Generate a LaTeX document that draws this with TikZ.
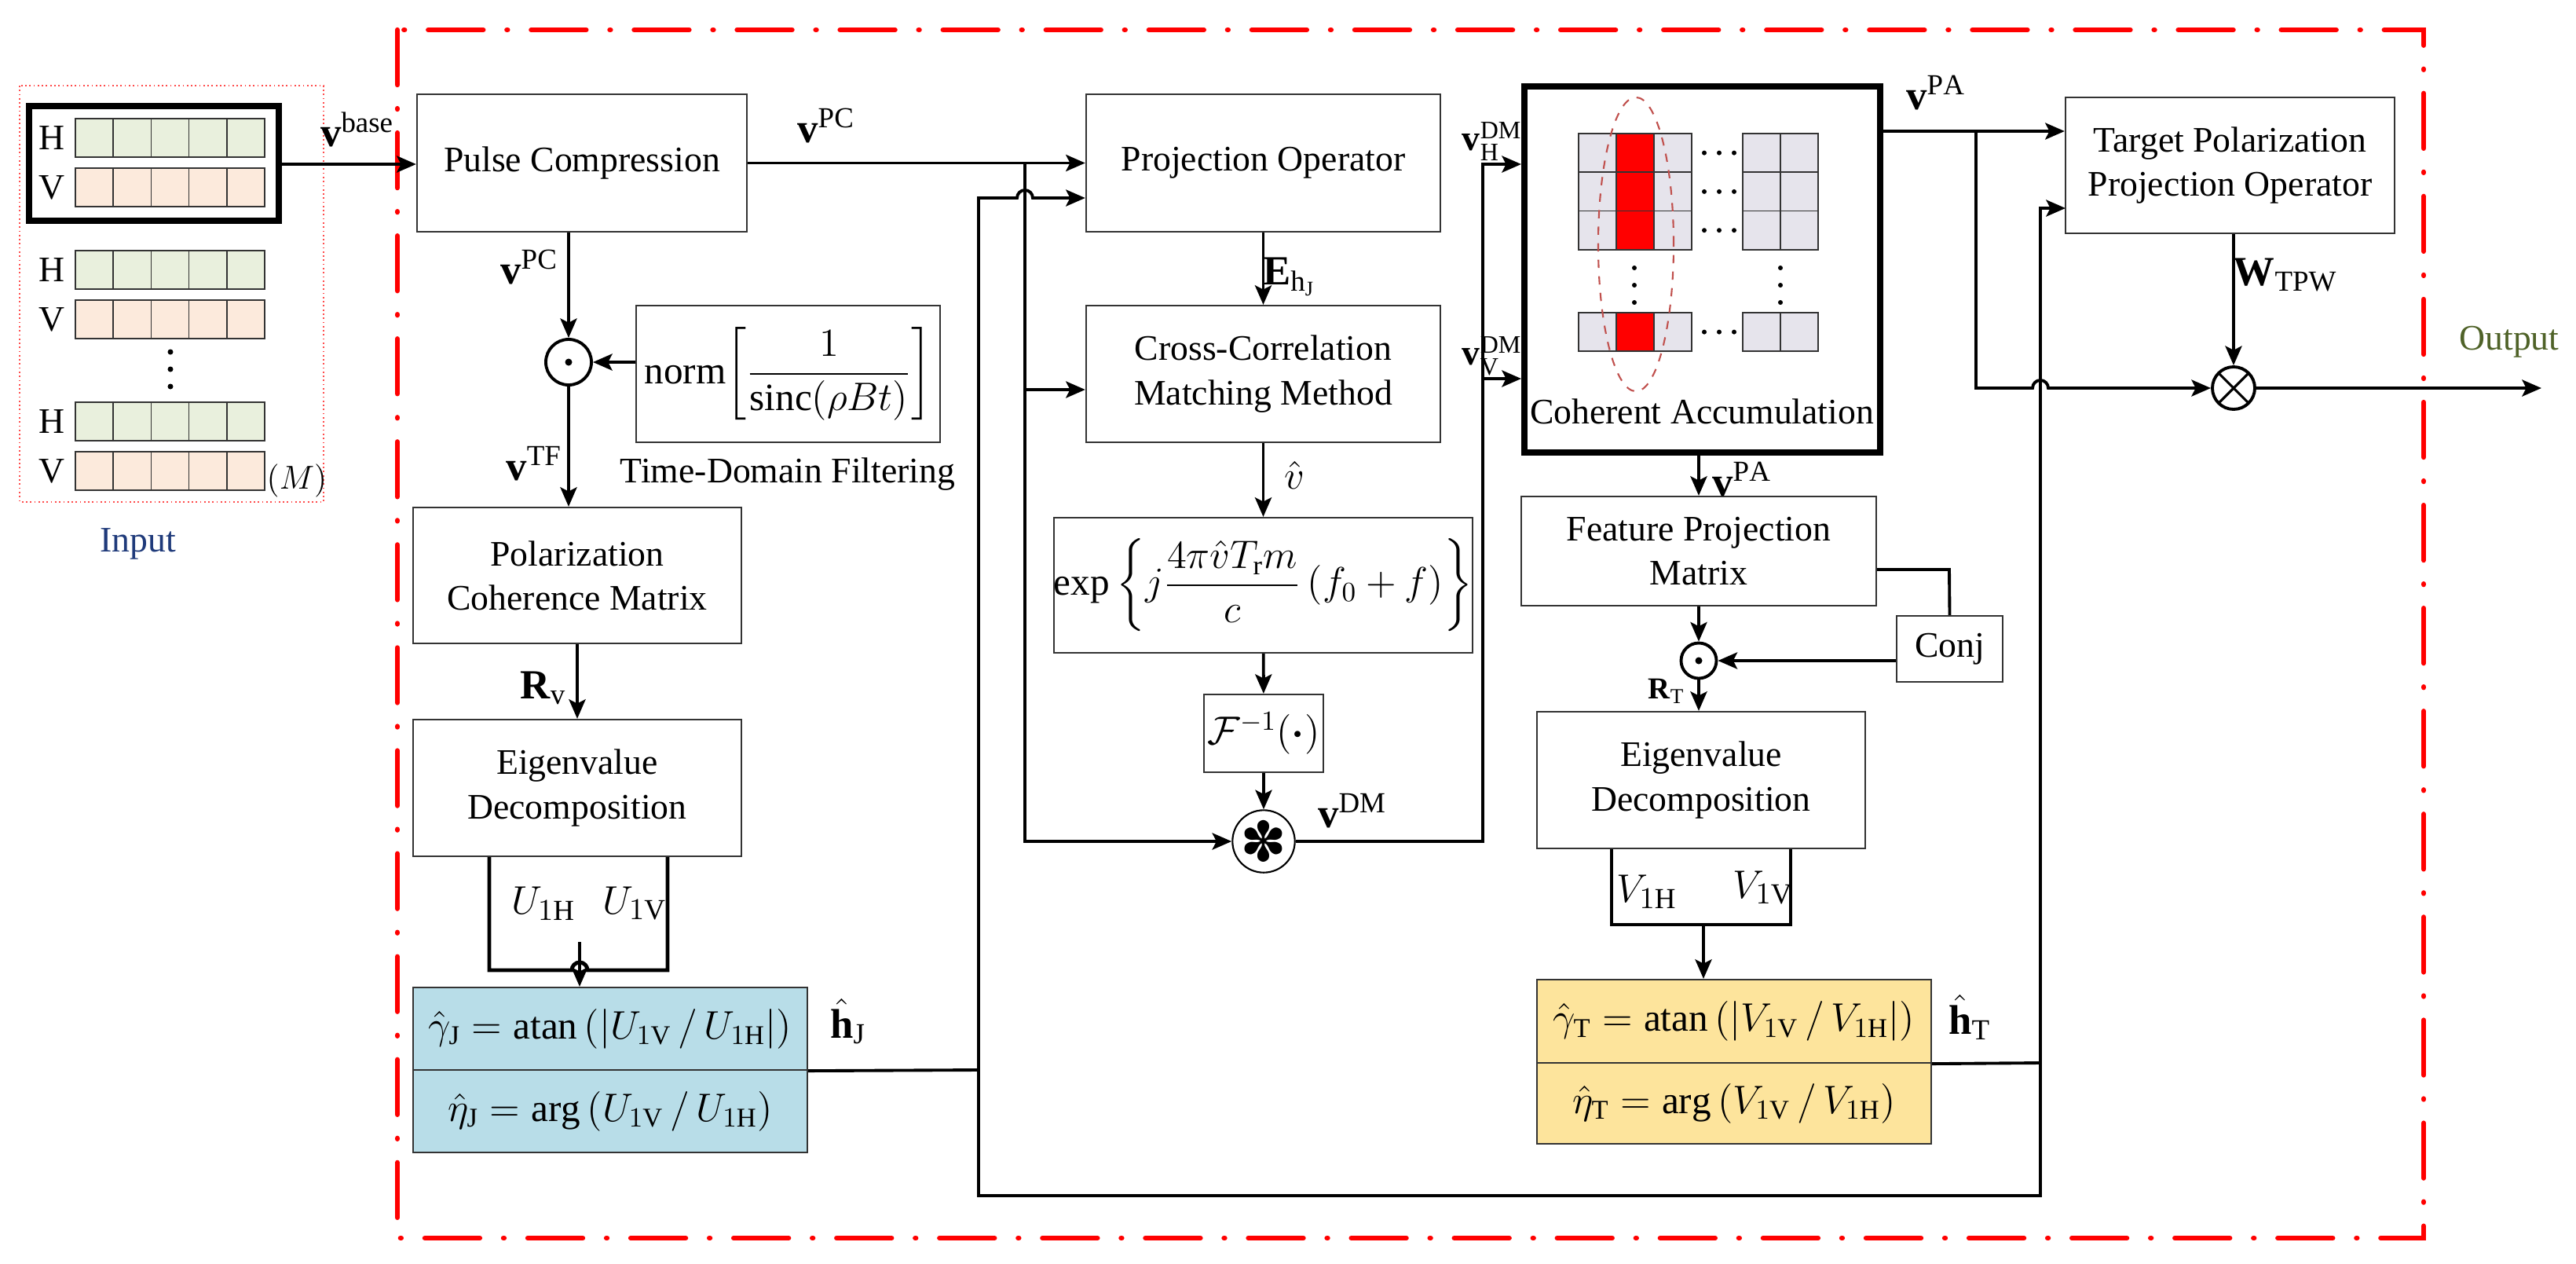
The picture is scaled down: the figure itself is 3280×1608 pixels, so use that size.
\documentclass[tikz,border=0pt]{standalone}
\usepackage{fontspec}
\setmainfont{Liberation Serif}
\newfontfamily\djv{DejaVu Sans}
\usepackage{amsmath,amssymb}
\usetikzlibrary{arrows.meta,calc}
\definecolor{bluec}{HTML}{B8DDE8}
\definecolor{yelc}{HTML}{FDE49C}
\definecolor{greenc}{HTML}{E9F0DD}
\definecolor{orgc}{HTML}{FCEADC}
\definecolor{cag}{HTML}{E6E4EC}
\definecolor{outc}{HTML}{4F6228}
\definecolor{inc}{HTML}{1F3A7A}
\definecolor{ellc}{HTML}{C0504D}
\begin{document}
\begin{tikzpicture}[x=0.01cm,y=-0.01cm, font=\fontsize{13}{16}\selectfont,
 box/.style={draw=black!80,line width=0.6pt,align=center,inner sep=0pt},
 eq/.style={font=\fontsize{14}{16}\selectfont},
 ar/.style={line width=1.1pt,-{Stealth[length=7pt,width=6pt,inset=1.5pt]}},
 ln/.style={line width=1.1pt},
 lbl/.style={font=\fontsize{15}{17}\selectfont, inner sep=0pt},
 dotop/.style={circle,draw,line width=1.1pt,inner sep=0pt,
   path picture={\fill (path picture bounding box.center) circle (0.045cm);}},
 cell/.style={draw=black!80,line width=0.5pt},
]
\useasboundingbox (0,0) rectangle (3280,1608);
% frame
\draw[red,line width=1.8pt,line cap=round,dash pattern=on 0.7cm off 0.3cm on 0.01cm off 0.3cm] (506,38) rectangle (3086,1576);

% ---------- input panel
\draw[red!70,densely dotted,line width=0.5pt] (25,109) rectangle (412,639);
\draw[line width=2.2pt] (37,135) rectangle (355,281);
\foreach \y/\c/\t in {151/greenc/H,214/orgc/V,319/greenc/H,382/orgc/V,512/greenc/H,575/orgc/V}{
  \foreach \i in {0,...,4}{\draw[cell,fill=\c] ({96+\i*48.2},\y) rectangle ++(48.2,49);}
  \node[inner sep=0pt] at (66,\y+24.5) {\t};
}
\foreach \y in {448,470,492}{\fill (217,\y) circle (0.035cm);}
\node[inner sep=0pt] (mlab) at (378,612) {$(M)$};
\node[text=inc,inner sep=0pt] (inlab) at (176,692) {Input};

% ---------- left column
\node[box,minimum width=4.2cm,minimum height=1.75cm] (pc) at (741,207.5) {Pulse Compression};
\draw[ar] (355,209) -- (pc.west |- 0,209);
\node[lbl] (vbase) at (455,165) {$\mathbf{v}^{\mathrm{base}}$};
\node[lbl] (vpc1) at (1052,160) {$\mathbf{v}^{\mathrm{PC}}$};
\node[dotop,minimum size=0.58cm] (od1) at (724,461) {};
\node[box,eq,minimum width=3.87cm,minimum height=1.74cm] (tdf) at (1003.5,476)
  {norm$\left[\dfrac{1}{\mathrm{sinc}(\rho Bt)}\right]$};
\node[inner sep=0pt] (tdfc) at (1003,604) {Time-Domain Filtering};
\draw[ar] (pc.south -| od1) -- (od1);
\draw[ar] (tdf.west |- od1) -- (od1);
\node[lbl] (vpc2) at (674,340) {$\mathbf{v}^{\mathrm{PC}}$};
\node[box,minimum width=4.18cm,minimum height=1.73cm] (pcm) at (735,732.5) {Polarization\\Coherence Matrix};
\draw[ar] (od1) -- (od1 |- pcm.north);
\node[lbl] (vtf) at (680,590) {$\mathbf{v}^{\mathrm{TF}}$};
\node[box,minimum width=4.18cm,minimum height=1.74cm] (evd1) at (735,1003) {Eigenvalue\\Decomposition};
\draw[ar] (pcm) -- (evd1);
\node[lbl] (rv) at (692,876) {$\mathbf{R}_{\mathrm{v}}$};
\coordinate (ua) at (623,1235);
\coordinate (ub) at (850,1235);
\draw[line width=1.4pt] (evd1.south -| ua) -- (ua) -- (728,1235) arc[start angle=180,end angle=0,radius=0.1cm] -- (ub) -- (evd1.south -| ub);
\node[lbl] (u1h) at (692,1150) {$U_{1\mathrm{H}}$};
\node[lbl] (u1v) at (808,1150) {$U_{1\mathrm{V}}$};
\node[box,eq,fill=bluec,minimum width=5.02cm,minimum height=1.05cm] (blT) at (777,1309.5)
  {$\hat{\gamma}_{\mathrm{J}}=\mathrm{atan}\left(\left|U_{1\mathrm{V}}\,/\,U_{1\mathrm{H}}\right|\right)$};
\node[box,eq,fill=bluec,minimum width=5.02cm,minimum height=1.05cm] (blB) at (777,1414.5)
  {$\hat{\eta}_{\mathrm{J}}=\arg\left(U_{1\mathrm{V}}\,/\,U_{1\mathrm{H}}\right)$};
\coordinate (uj) at (738,1199);
\draw[ar] (uj) -- (uj |- blT.north);
\node[lbl] (hj) at (1080,1300) {$\hat{\mathbf{h}}_{\mathrm{J}}$};

% ---------- middle column
\node[box,minimum width=4.51cm,minimum height=1.75cm] (po) at (1608.5,207.5) {Projection Operator};
\node[box,minimum width=4.51cm,minimum height=1.74cm] (cc) at (1608.5,476) {Cross-Correlation\\Matching Method};
\node[box,eq,minimum width=4.51cm,minimum height=1.72cm] (ex) at (1608.5,745)
  {$\exp\left\{j\dfrac{4\pi\hat{v}T_{\mathrm{r}}m}{c}\left(f_0+f\right)\right\}$};
\node[box,eq,minimum width=1.52cm,minimum height=0.99cm] (fi) at (1609,933.5) {$\mathcal{F}^{-1}(\boldsymbol{\cdot})$};
\node[circle,draw,line width=0.6pt,minimum size=0.74cm,inner sep=0pt] (star) at (1609,1071) {\djv\fontsize{20}{20}\selectfont\symbol{"273D}};
\draw[ar] (pc) -- (po);
\coordinate (br) at (1305,208);
\draw[ar] (br) -- (1305,1071) -- (star);
\draw[ar] (1305,496) -- (cc.west |- 0,496);
\draw[ar] (po) -- (cc);
\node[lbl] (ehj) at (1642,352) {$\mathbf{E}_{\mathrm{h}_{\mathrm{J}}}$};
\draw[ar] (cc) -- (ex);
\node[lbl] (vh) at (1648,605) {$\hat{v}$};
\draw[ar] (ex) -- (fi);
\draw[ar] (fi) -- (star);
\node[lbl] (vdm) at (1722,1032) {$\mathbf{v}^{\mathrm{DM}}$};
% feedback lines
\coordinate (hjp) at (1246,1362);
\draw[ln] (blT.south east) -- (hjp);
\draw[ar] (hjp) -- (1246,252) -- (1295,252) arc[start angle=180,end angle=0,radius=0.1cm] -- (po.west |- 0,252);
\draw[ar] (hjp) -- (1246,1522) -- (2598,1522) -- (2598,265) -- (2630,265);

% ---------- coherent accumulation
\node[draw,line width=2.2pt,minimum width=4.53cm,minimum height=4.66cm,inner sep=0pt] (ca) at (2167.5,343) {};
\foreach \y in {170,219.3,268.6,398}{
  \draw[cell,fill=cag] (2010,\y) rectangle ++(48,49.3);
  \draw[cell,fill=red] (2058,\y) rectangle ++(48,49.3);
  \draw[cell,fill=cag] (2106,\y) rectangle ++(48,49.3);
  \draw[cell,fill=cag] (2219,\y) rectangle ++(48,49.3);
  \draw[cell,fill=cag] (2267,\y) rectangle ++(48,49.3);
  \foreach \x in {2170,2189,2208}{\fill (\x,\y+24.6) circle (0.03cm);}
}
\foreach \y in {341,363,385}{\fill (2081,\y) circle (0.03cm); \fill (2267,\y) circle (0.03cm);}
\draw[ellc,dashed,line width=0.6pt] (2083,311) ellipse [x radius=0.48cm,y radius=1.87cm];
\node[inner sep=0pt] (catxt) at (2167,524) {Coherent Accumulation};
\draw[ar] (star) -- (1888,1071) -- (1888,209) -- (ca.west |- 0,209);
\draw[ar] (1888,482) -- (ca.west |- 0,482);
\node[lbl,font=\fontsize{13}{15}\selectfont] (vhdm) at (1900,180) {$\mathbf{v}_{\mathrm{H}}^{\mathrm{DM}}$};
\node[lbl,font=\fontsize{13}{15}\selectfont] (vvdm) at (1900,453) {$\mathbf{v}_{\mathrm{V}}^{\mathrm{DM}}$};

% ---------- right part
\node[box,minimum width=4.19cm,minimum height=1.73cm] (tppo) at (2839.5,210.5) {Target Polarization\\Projection Operator};
\node[circle,draw,line width=1.1pt,minimum size=0.54cm,inner sep=0pt,
  path picture={\draw[line width=0.9pt] (path picture bounding box.south west) -- (path picture bounding box.north east) (path picture bounding box.north west) -- (path picture bounding box.south east);}] (ot) at (2844,494) {};
\draw[ar] (ca.east |- 0,167) -- (tppo.west |- 0,167);
\node[lbl] (vpa1) at (2465,118) {$\mathbf{v}^{\mathrm{PA}}$};
\draw[ar] (2516,167) -- (2516,494) -- (2588,494) arc[start angle=180,end angle=0,radius=0.1cm] -- (ot);
\draw[ar] (tppo.south -| ot) -- (ot);
\node[lbl] (wtpw) at (2910,350) {$\mathbf{W}_{\mathrm{TPW}}$};
\coordinate (oend) at (3236,494);
\draw[ar] (ot) -- (oend);
\node[text=outc,inner sep=0pt] (outl) at (3195,435) {Output};

\node[box,minimum width=4.52cm,minimum height=1.39cm] (fpm) at (2163,701.5) {Feature Projection\\Matrix};
\draw[ar] (ca.south -| fpm) -- (fpm);
\node[lbl] (vpa2) at (2218,610) {$\mathbf{v}^{\mathrm{PA}}$};
\node[box,minimum width=1.35cm,minimum height=0.84cm] (conj) at (2482.5,826) {Conj};
\node[dotop,minimum size=0.45cm] (od2) at (2163,841) {};
\draw[ln] (fpm.east |- 0,725) -- (2482,725) -- (conj.north);
\draw[ar] (conj.west |- od2) -- (od2);
\draw[ar] (fpm.south -| od2) -- (od2);
\node[box,minimum width=4.18cm,minimum height=1.74cm] (evd2) at (2166,993) {Eigenvalue\\Decomposition};
\draw[ar] (od2) -- (od2 |- evd2.north);
\node[lbl,font=\fontsize{11}{12}\selectfont] (rt) at (2122,880) {$\mathbf{R}_{\mathrm{T}}$};
\draw[line width=1.4pt] (evd2.south -| 2052,0) -- (2052,1177) -- (2280,1177) -- (evd2.south -| 2280,0);
\node[lbl] (v1h) at (2097,1135) {$V_{1\mathrm{H}}$};
\node[lbl] (v1v) at (2245,1130) {$V_{1\mathrm{V}}$};
\node[box,eq,fill=yelc,minimum width=5.02cm,minimum height=1.06cm] (yT) at (2208,1300)
  {$\hat{\gamma}_{\mathrm{T}}=\mathrm{atan}\left(\left|V_{1\mathrm{V}}\,/\,V_{1\mathrm{H}}\right|\right)$};
\node[box,eq,fill=yelc,minimum width=5.02cm,minimum height=1.03cm] (yB) at (2208,1404.5)
  {$\hat{\eta}_{\mathrm{T}}=\arg\left(V_{1\mathrm{V}}\,/\,V_{1\mathrm{H}}\right)$};
\draw[ar] (2169,1177) -- (yT.north -| 2169,0);
\node[lbl] (ht) at (2508,1295) {$\hat{\mathbf{h}}_{\mathrm{T}}$};
\draw[ln] (yT.south east) -- (2598,1353);
\end{tikzpicture}
\end{document}
